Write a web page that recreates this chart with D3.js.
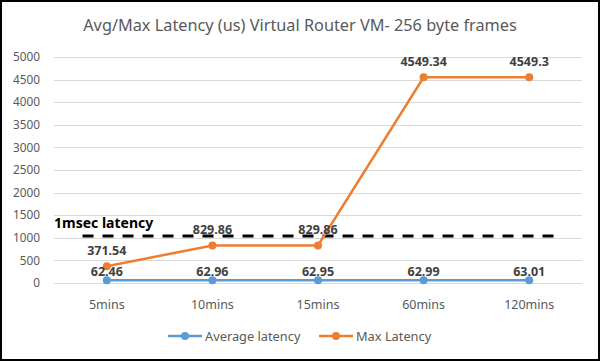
<!DOCTYPE html>
<html>
<head>
<meta charset="utf-8">
<script src="https://cdn.jsdelivr.net/npm/d3@7"></script>
<style>
  body { margin: 0; background: #fff; }
  text { font-family: "Noto Sans", sans-serif; }
</style>
</head>
<body>
<div id="chart"></div>
<script>
var categories = ["5mins", "10mins", "15mins", "60mins", "120mins"];
var avgLatency = [62.46, 62.96, 62.95, 62.99, 63.01];
var maxLatency = [371.54, 829.86, 829.86, 4549.34, 4549.3];
var yTicks = [0, 500, 1000, 1500, 2000, 2500, 3000, 3500, 4000, 4500, 5000];
var thresholdValue = 1040;
var thresholdLabel = "1msec latency";

var svgWidth = 600;
var svgHeight = 361;

var margin = { top: 57, right: 18, bottom: 78, left: 54 };
var width = 582 - margin.left;
var height = 283 - margin.top;

var svg = d3.select("#chart")
    .append("svg")
    .attr("width", svgWidth)
    .attr("height", svgHeight);

svg.append("rect")
    .attr("x", 1).attr("y", 1)
    .attr("width", svgWidth - 2).attr("height", svgHeight - 2)
    .attr("fill", "#fff")
    .attr("stroke", "#000")
    .attr("stroke-width", 2);

svg.append("text")
    .attr("x", 300)
    .attr("y", 31)
    .attr("text-anchor", "middle")
    .attr("font-size", "16.3px")
    .attr("fill", "#595959")
    .text("Avg/Max Latency (us) Virtual Router VM- 256 byte frames");

var chartGroup = svg.append("g")
    .attr("transform", `translate(${margin.left}, ${margin.top})`);

var xScale = d3.scaleBand()
    .domain(categories)
    .range([0, width]);

var yScale = d3.scaleLinear()
    .domain([0, 5000])
    .range([height, 0]);

var xc = d => xScale(d) + xScale.bandwidth() / 2;

// gridlines
chartGroup.append("g")
    .selectAll("line")
    .data(yTicks)
    .enter()
    .append("line")
    .attr("x1", 0)
    .attr("x2", width)
    .attr("y1", d => Math.round(yScale(d)) + 0.5)
    .attr("y2", d => Math.round(yScale(d)) + 0.5)
    .attr("stroke", "#d9d9d9")
    .attr("stroke-width", 1);

var leftAxis = d3.axisLeft(yScale).tickValues(yTicks).tickFormat(d3.format("d")).tickSize(0).tickPadding(14);
chartGroup.append("g")
    .call(leftAxis)
    .call(g => g.select(".domain").remove())
    .selectAll("text")
    .attr("font-family", "Noto Sans")
    .attr("font-size", "11.8px")
    .attr("fill", "#595959");

var bottomAxis = d3.axisBottom(xScale).tickSize(0).tickPadding(17);
chartGroup.append("g")
    .attr("transform", `translate(0, ${height})`)
    .call(bottomAxis)
    .call(g => g.select(".domain").remove())
    .selectAll("text")
    .attr("font-family", "Noto Sans")
    .attr("font-size", "12.5px")
    .attr("fill", "#595959");

// 1msec threshold line
var bw = xScale.bandwidth();
chartGroup.append("line")
    .attr("x1", xc(categories[0]) - bw * 0.23)
    .attr("x2", xc(categories[categories.length - 1]) + bw * 0.28)
    .attr("y1", yScale(thresholdValue))
    .attr("y2", yScale(thresholdValue))
    .attr("stroke", "#000")
    .attr("stroke-width", 3)
    .attr("stroke-dasharray", "11,9");

chartGroup.append("text")
    .attr("x", 0)
    .attr("y", yScale(thresholdValue) - 8)
    .attr("font-size", "14px")
    .attr("font-weight", "bold")
    .attr("fill", "#000")
    .text(thresholdLabel);

var series = [
    { name: "Average latency", values: avgLatency, color: "#5b9bd5", labelDy: -4 },
    { name: "Max Latency", values: maxLatency, color: "#ed7d31", labelDy: -11 }
];

var line = d3.line()
    .x((d, i) => xc(categories[i]))
    .y(d => yScale(d));

series.forEach(function (s) {
    chartGroup.append("path")
        .datum(s.values)
        .attr("fill", "none")
        .attr("stroke", s.color)
        .attr("stroke-width", 2.5)
        .attr("d", line);

    chartGroup.append("g")
        .selectAll("circle")
        .data(s.values)
        .enter()
        .append("circle")
        .attr("cx", (d, i) => xc(categories[i]))
        .attr("cy", d => yScale(d))
        .attr("r", 4)
        .attr("fill", s.color);
});

series.forEach(function (s) {
    chartGroup.append("g")
        .selectAll("text")
        .data(s.values)
        .enter()
        .append("text")
        .attr("x", (d, i) => xc(categories[i]))
        .attr("y", d => yScale(d) + s.labelDy)
        .attr("text-anchor", "middle")
        .attr("font-size", "12.5px")
        .attr("font-weight", "bold")
        .attr("fill", "#404040")
        .text(d => d);
});

// legend
var legend = svg.append("g").attr("transform", "translate(0, 336)");
var legendX = [168, 319];
series.forEach(function (s, i) {
    var g = legend.append("g").attr("transform", `translate(${legendX[i]}, 0)`);
    g.append("line")
        .attr("x1", 0).attr("x2", 34)
        .attr("y1", 0).attr("y2", 0)
        .attr("stroke", s.color)
        .attr("stroke-width", 2.5);
    g.append("circle")
        .attr("cx", 17).attr("cy", 0).attr("r", 4)
        .attr("fill", s.color);
    g.append("text")
        .attr("x", 37)
        .attr("y", 4.5)
        .attr("font-size", "12.8px")
        .attr("fill", "#595959")
        .text(s.name);
});
</script>
</body>
</html>
